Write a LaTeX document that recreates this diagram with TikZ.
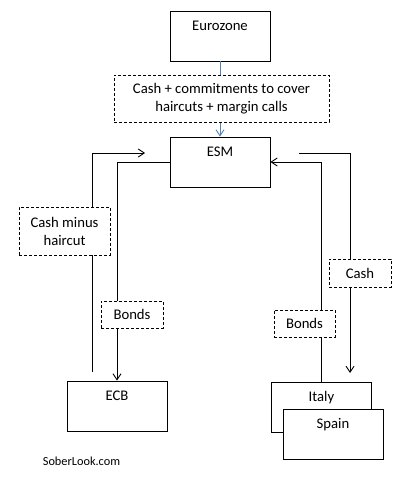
\documentclass[tikz,border=0pt]{standalone}
\usepackage{fontspec}
\setmainfont{Carlito}
\usetikzlibrary{arrows.meta}
\definecolor{flowblue}{RGB}{79,129,189}

\begin{document}
\begin{tikzpicture}[x=1pt, y=-1pt, line width=0.9pt,
    >={Straight Barb[length=6pt, width=8pt]},
    every node/.style={font=\fontsize{14.7}{18}\selectfont},
    party/.style={draw, fill=white, minimum width=100pt, inner sep=3pt,
        text height=16.5pt, text depth=27.5pt},
    flow/.style={draw, fill=white, dash pattern=on 3pt off 2pt,
        align=center, inner sep=2pt}]
    \useasboundingbox (0,0) rectangle (406,484);

    % parties
    \node[party] (eurozone) at (220,36) {Eurozone};
    \node[party] (esm) at (220,162) {ESM};
    \node[party] (ecb) at (117,406) {ECB};
    \node[party] (italy) at (321.5,407) {Italy};
    \node[party] (spain) at (333,434) {Spain};

    % free ends
    \coordinate (ecbout) at (92,372);
    \coordinate (esmin) at (145,153);
    \coordinate (esmout) at (299,153);
    \coordinate (cashin) at (350,373);

    \draw[->, flowblue] (eurozone) -- (esm);
    \draw[->] (ecbout) |- (esmin);
    \draw[->] (esm.west) -| (ecb.north);
    \draw[->] (italy.north) |- (esm.east);
    \draw[->] (esmout) -| (cashin);

    % flows
    \node[flow, minimum width=215pt, minimum height=47pt] (cover) at (221.5,98.5)
        {Cash + commitments to cover\\haircuts + margin calls};
    \node[flow, minimum width=91pt, minimum height=48pt] (cashminus) at (64.5,231)
        {Cash minus\\haircut};
    \node[flow, minimum width=62pt, minimum height=27pt] (ecbbonds) at (132,314.5) {Bonds};
    \node[flow, minimum width=62pt, minimum height=28pt] (cash) at (360,273) {Cash};
    \node[flow, minimum width=61pt, minimum height=27pt] (bonds) at (304.5,323.5) {Bonds};

    \node[font=\fontsize{12.3}{14}\selectfont] (source) at (81.5,461) {SoberLook.com};
\end{tikzpicture}
\end{document}
